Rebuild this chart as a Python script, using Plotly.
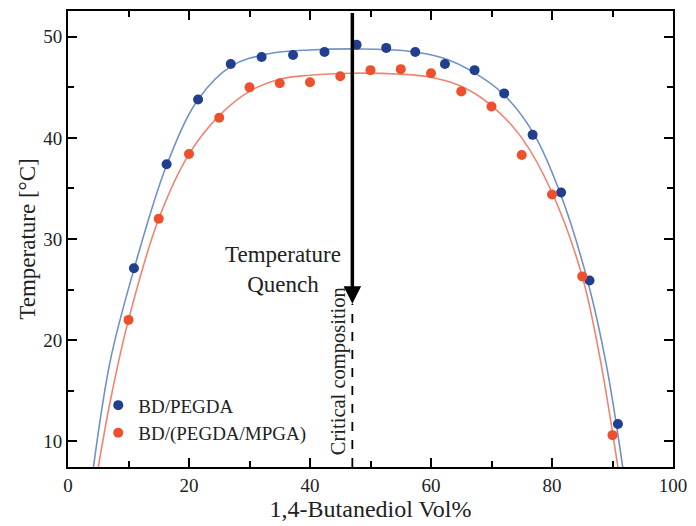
import plotly.graph_objects as go

# measured data points
bd_pegda_x = [10.9, 16.3, 21.5, 26.9, 32.0, 37.2, 42.4, 47.7, 52.6, 57.4,
              62.3, 67.2, 72.1, 76.8, 81.5, 86.2, 90.9]
bd_pegda_t = [27.1, 37.4, 43.8, 47.3, 48.0, 48.2, 48.5, 49.2, 48.9, 48.5,
              47.3, 46.7, 44.4, 40.3, 34.6, 25.9, 11.7]

bd_mix_x = [10, 15, 20, 25, 30, 35, 40, 45, 50, 55, 60, 65, 70, 75, 80, 85, 90]
bd_mix_t = [22.0, 32.0, 38.4, 42.0, 45.0, 45.4, 45.5, 46.1, 46.7, 46.8, 46.4,
            44.6, 43.1, 38.3, 34.4, 26.3, 10.6]

# fitted binodal curves
fit_blue_x = [4.2, 7.0, 10.9, 16.3, 21.5, 27.0, 33.0, 40.0, 48.0, 56.0,
              62.0, 67.0, 72.0, 77.0, 81.5, 86.0, 89.0, 91.7]
fit_blue_t = [7.4, 18.0, 27.0, 37.3, 43.8, 47.1, 48.3, 48.7, 48.8, 48.6,
              47.9, 46.5, 44.3, 40.4, 34.3, 25.6, 17.5, 7.4]

fit_red_x = [5.0, 7.0, 10.0, 15.0, 20.0, 25.0, 30.0, 35.0, 40.0, 47.0,
             55.0, 60.0, 65.0, 70.0, 75.0, 80.0, 85.0, 88.0, 90.9]
fit_red_t = [7.4, 14.0, 22.0, 32.0, 38.4, 42.2, 44.6, 45.8, 46.2, 46.4,
             46.3, 46.0, 45.1, 43.2, 40.0, 34.6, 26.3, 18.0, 7.4]

critical_x = 47.0
quench_top = 52.5
quench_end = 23.6

x_range = [0, 100]
y_range = [7.45, 52.55]

serif = "Liberation Serif, Times New Roman, serif"
blue_dot = "#213f8e"
red_dot = "#ee4f2c"
blue_line = "#6f92c8"
red_line = "#f08470"
text_col = "#222"

fig = go.Figure()

fig.add_trace(go.Scatter(x=fit_blue_x, y=fit_blue_t, mode="lines",
                         line=dict(color=blue_line, width=1.6, shape="spline", smoothing=1.0),
                         showlegend=False, hoverinfo="skip"))
fig.add_trace(go.Scatter(x=fit_red_x, y=fit_red_t, mode="lines",
                         line=dict(color=red_line, width=1.6, shape="spline", smoothing=1.0),
                         showlegend=False, hoverinfo="skip"))

fig.add_trace(go.Scatter(x=bd_pegda_x, y=bd_pegda_t, mode="markers", name="BD/PEGDA",
                         marker=dict(color=blue_dot, size=10)))
fig.add_trace(go.Scatter(x=bd_mix_x, y=bd_mix_t, mode="markers", name="BD/(PEGDA/MPGA)",
                         marker=dict(color=red_dot, size=10)))

# dashed critical composition line
fig.add_shape(type="line", x0=critical_x, x1=critical_x, y0=y_range[0], y1=quench_end,
              opacity=1, line=dict(color="black", width=1.8, dash="dash"))

# quench arrow
fig.add_annotation(x=critical_x, y=quench_end, ax=critical_x, ay=quench_top,
                   xref="x", yref="y", axref="x", ayref="y", text="",
                   showarrow=True, arrowhead=2, arrowsize=1.0, arrowwidth=3.5,
                   arrowcolor="black")

fig.add_annotation(x=35.6, y=27.0, text="Temperature<br>Quench", showarrow=False,
                   font=dict(family=serif, size=23, color=text_col), align="center")
fig.add_annotation(x=44.75, y=16.9, text="Critical composition", showarrow=False,
                   textangle=-90, font=dict(family=serif, size=20.5, color=text_col))

# tick labels take their font from layout.font
axis_common = dict(showline=True, linecolor="black", linewidth=2, mirror="ticks",
                   ticks="inside", ticklen=9, tickwidth=2, tickcolor="black")
minor_common = dict(ticks="inside", ticklen=6, tickwidth=2, tickcolor="black")

fig.update_xaxes(range=x_range, dtick=20, tick0=0,
                 minor=dict(dtick=10, **minor_common),
                 title=dict(text="1,4-Butanediol Vol%", font=dict(family=serif, size=24, color=text_col),
                            standoff=0),
                 **axis_common)
fig.update_yaxes(range=y_range, dtick=10, tick0=0,
                 minor=dict(dtick=5, **minor_common),
                 title=dict(text="Temperature [°C]", font=dict(family=serif, size=23, color=text_col),
                            standoff=1),
                 **axis_common)

fig.update_layout(
    template="simple_white",
    width=696, height=526,
    margin=dict(l=68, r=18, t=9, b=59),
    font=dict(family=serif, size=19, color=text_col),
    plot_bgcolor="white", paper_bgcolor="white",
    legend=dict(x=0.05, y=0.177, xanchor="left", yanchor="top",
                font=dict(family=serif, size=19, color=text_col),
                bgcolor="rgba(0,0,0,0)", itemwidth=30, tracegroupgap=2),
)

fig.write_html("out.html", config={"displayModeBar": False},
               post_script="document.body.style.margin='0px';")
